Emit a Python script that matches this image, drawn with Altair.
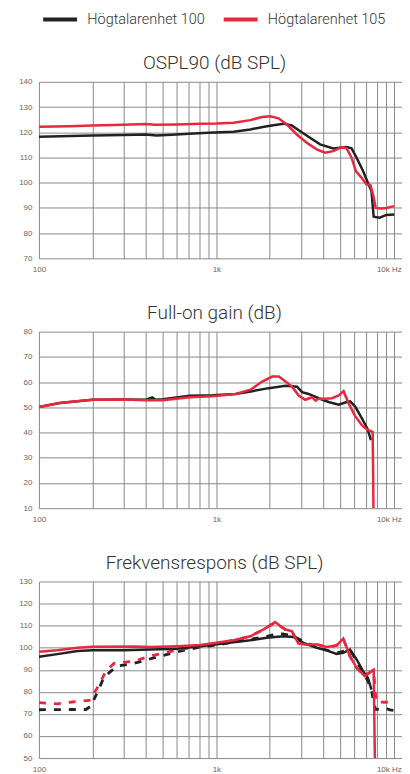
import altair as alt
import pandas as pd

SERIES = ["Högtalarenhet 100", "Högtalarenhet 105"]
COLORS = ["#222222", "#e8283f"]
TITLES = ["OSPL90 (dB SPL)", "Full-on gain (dB)", "Frekvensrespons (dB SPL)"]
Y_DOMAINS = [(70, 140), (10, 80), (50, 130)]
X_GRID = [100, 200, 300, 400, 500, 600, 700, 800, 900,
          1000, 2000, 3000, 4000, 5000, 6000, 7000, 8000, 9000, 10000]

# --- OSPL90 ---
ospl_f_100 = [100, 200, 300, 400, 460, 560, 700, 900, 1251, 1552, 1925, 2390, 2660,
              2970, 3370, 3840, 4560, 5420, 5780, 6170, 6710, 7140, 7480, 7700, 8330,
              9070, 10060]
ospl_v_100 = [118.2, 118.7, 118.9, 119.1, 118.7, 119.0, 119.4, 119.8, 120.2, 121.1,
              122.4, 123.4, 122.7, 120.4, 117.8, 115.2, 113.6, 114.1, 113.6, 109.9,
              104.6, 100.0, 96.7, 86.5, 86.1, 87.2, 87.4]
ospl_f_105 = [100, 150, 200, 300, 400, 450, 600, 813, 1000, 1251, 1552, 1805, 2011,
              2240, 2494, 2839, 3230, 3676, 4095, 4560, 5080, 5420, 5780, 6110, 6570,
              7010, 7380, 7640, 7910, 8510, 9070, 10060]
ospl_v_105 = [122.2, 122.4, 122.7, 123.0, 123.3, 123.0, 123.1, 123.4, 123.5, 123.8,
              124.8, 126.0, 126.3, 125.5, 123.1, 119.1, 115.8, 113.2, 111.9, 112.5,
              114.1, 113.6, 109.9, 104.6, 102.0, 99.3, 99.0, 95.3, 90.0, 89.8, 90.0,
              90.7]

# --- Full-on gain ---
gain_f_100 = [100, 131, 200, 298, 402, 435, 455, 500, 705, 950, 1284, 1593, 1976,
              2452, 2850, 3040, 3310, 3770, 4290, 4890, 5320, 5670, 6060, 6620, 7100,
              7430]
gain_v_100 = [50.1, 51.7, 53.0, 53.1, 53.0, 53.9, 53.0, 53.2, 54.6, 54.8, 55.3, 56.4,
              57.6, 58.5, 58.2, 56.0, 55.3, 53.6, 52.1, 51.0, 51.9, 52.4, 50.3, 45.5,
              41.5, 37.0]
gain_f_105 = [100, 131, 200, 298, 402, 500, 705, 950, 1284, 1558, 1813, 2063, 2250,
              2452, 2670, 2910, 3170, 3460, 3620, 3770, 4110, 4480, 4890, 5210, 5570,
              6060, 6620, 7090, 7430, 7600, 7680]
gain_v_105 = [50.1, 51.7, 53.0, 53.1, 52.8, 52.8, 54.0, 54.4, 55.3, 57.0, 60.2, 62.2,
              62.2, 60.2, 58.2, 54.7, 53.0, 54.0, 52.6, 53.4, 53.4, 53.6, 54.7, 56.4,
              51.4, 46.5, 42.8, 41.1, 40.6, 40.2, 10.0]

# --- Frekvensrespons (solid) ---
fr_f_100 = [100, 127, 165, 200, 302, 425, 602, 813, 1251, 1552, 1925, 2390, 2720,
            3095, 3676, 4180, 4760, 5190, 5660, 6170, 6710, 7140, 7480]
fr_v_100 = [95.9, 97.1, 98.5, 98.9, 98.9, 99.2, 99.5, 100.7, 102.5, 103.4, 104.5,
            105.2, 104.9, 102.2, 100.0, 98.8, 97.2, 97.7, 99.2, 94.7, 89.4, 86.4, 81.0]
fr_f_105 = [100, 127, 165, 200, 343, 425, 602, 813, 1251, 1552, 1846, 2145, 2290,
            2440, 2660, 2900, 3230, 3676, 4180, 4760, 5190, 5660, 6170, 6860, 7495,
            7700, 7820]
fr_v_105 = [98.2, 98.9, 100.0, 100.4, 100.6, 100.3, 100.7, 101.2, 103.4, 105.2, 108.3,
            111.6, 109.8, 108.3, 107.5, 101.9, 101.5, 101.5, 100.3, 101.0, 104.2, 96.2,
            90.9, 87.1, 89.4, 90.0, 50.0]

# --- Frekvensrespons (dashed) ---
frd_f_100 = [100, 150, 184, 196, 213, 232, 248, 276, 343, 425, 529, 655, 812, 1000,
             1251, 1552, 1925, 2290, 2720, 3095, 3676, 4180, 4760, 5190, 5660, 6170,
             6710, 7140, 7500, 7700, 7900, 8500, 9070, 9500, 9950]
frd_v_100 = [71.9, 72.0, 72.0, 73.5, 79.6, 86.4, 88.6, 91.7, 92.9, 95.0, 97.0, 98.8,
             100.3, 101.2, 102.6, 103.8, 105.2, 106.5, 105.3, 102.8, 100.3, 98.9, 97.6,
             98.4, 99.0, 94.0, 88.5, 85.0, 80.5, 75.0, 72.0, 72.3, 72.5, 71.8, 71.6]
frd_f_105 = [100, 127, 154, 192, 205, 219, 238, 265, 343, 425, 529, 655, 812, 1000,
             1251, 1552, 1846, 2145, 2290, 2440, 2660, 2900, 3230, 3676, 4180, 4760,
             5190, 5660, 6170, 6860, 7480, 7700, 7950, 8300, 9070, 10000]
frd_v_105 = [75.1, 74.6, 75.4, 76.1, 79.6, 83.4, 89.4, 92.9, 93.9, 96.2, 98.0, 99.5,
             100.7, 101.8, 103.4, 105.2, 108.3, 111.4, 109.8, 108.3, 107.5, 102.2, 101.5,
             101.5, 100.3, 101.0, 104.0, 96.2, 90.9, 87.1, 89.4, 89.5, 75.4, 75.4, 75.3,
             75.4]

rows = []


def add(panel, series, kind, fs, vs):
    for f, v in zip(fs, vs):
        rows.append({"panel": panel, "series": series, "kind": kind, "f": f, "v": v})


add(0, SERIES[0], "solid", ospl_f_100, ospl_v_100)
add(0, SERIES[1], "solid", ospl_f_105, ospl_v_105)
add(1, SERIES[0], "solid", gain_f_100, gain_v_100)
add(1, SERIES[1], "solid", gain_f_105, gain_v_105)
add(2, SERIES[0], "solid", fr_f_100, fr_v_100)
add(2, SERIES[1], "solid", fr_f_105, fr_v_105)
add(2, SERIES[0], "dashed", frd_f_100, frd_v_100)
add(2, SERIES[1], "dashed", frd_f_105, frd_v_105)

df = pd.DataFrame(rows)

label_expr = ("datum.value == 100 ? '100' : datum.value == 1000 ? '1k' : "
              "datum.value == 10000 ? '10k Hz' : ''")


def make_panel(i):
    ymin, ymax = Y_DOMAINS[i]
    x = alt.X("f:Q",
              scale=alt.Scale(type="log", domain=[100, 11120], nice=False),
              axis=alt.Axis(values=X_GRID, labelExpr=label_expr, title=None,
                            labelFlush=False, labelOverlap=False, labelBound=False,
                            labelOffset={"condition": {"test": "datum.value == 10000",
                                                       "value": -5}, "value": 0}))
    y = alt.Y("v:Q",
              scale=alt.Scale(domain=[ymin, ymax], nice=False, zero=False),
              axis=alt.Axis(values=list(range(ymin, ymax + 1, 10)), title=None))
    color = alt.Color("series:N",
                      scale=alt.Scale(domain=SERIES, range=COLORS),
                      legend=alt.Legend(orient="none", legendX=14, legendY=-70,
                                        direction="horizontal", title=None,
                                        symbolType="M-3.4,0H3.4", symbolStrokeWidth=4,
                                        symbolSize=100, labelFontSize=14.5,
                                        labelFont="Roboto", labelFontWeight=300,
                                        labelColor="#333333", labelOffset=20,
                                        columnPadding=10))
    base = alt.Chart(df).transform_filter(alt.datum.panel == i)
    solid = base.transform_filter(alt.datum.kind == "solid").mark_line(
        strokeWidth=2.5, clip=True).encode(x=x, y=y, color=color)
    layers = [solid]
    if i == 2:
        dashed = base.transform_filter(alt.datum.kind == "dashed").mark_line(
            strokeWidth=2.8, strokeDash=[7, 8], clip=True).encode(x=x, y=y, color=color)
        layers = [dashed, solid]
    return alt.layer(*layers).properties(
        width=364, height=177,
        title=alt.TitleParams(TITLES[i], dx=-6))


chart = alt.vconcat(make_panel(0), make_panel(1), make_panel(2), spacing=30.5).properties(
    padding={"left": 10, "top": 3, "right": 0, "bottom": 0}
).configure_view(stroke=None).configure_axis(
    grid=True, gridColor="#8a8a8a", gridWidth=1, domain=False, ticks=False,
    labelColor="#666666", labelFont="Liberation Sans", labelFontSize=8, labelPadding=7
).configure_title(
    font="Roboto", fontSize=19, fontWeight=300, color="#333333", offset=4.5
)

chart.save("out.html", embed_options={"renderer": "svg", "actions": False})
